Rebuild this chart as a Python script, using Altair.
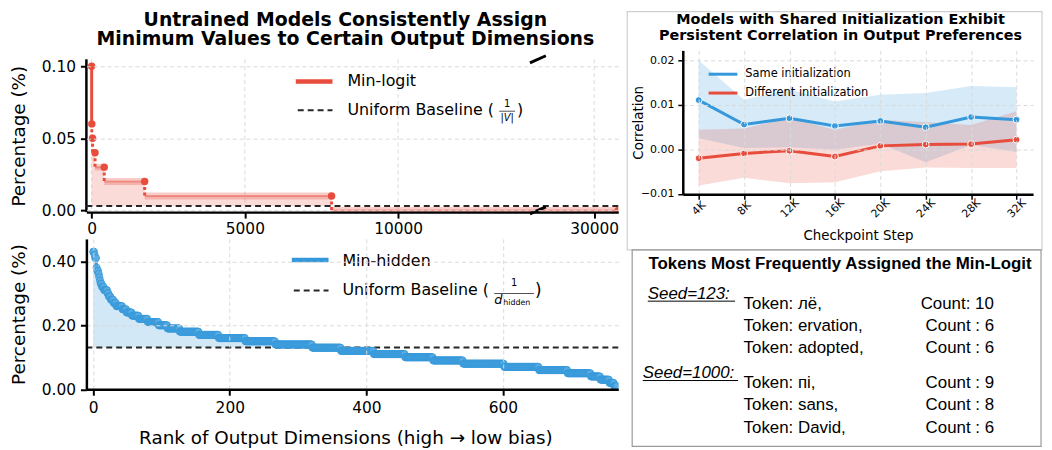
import altair as alt
import pandas as pd

# ---------------- data ----------------
# (a) untrained model: share (%) of inputs whose minimum logit falls on a token, sorted
logit_rank = [0, 5, 30, 110, 410, 1730, 7830, 32000]      # last rank of each plateau
logit_pct = [0.10, 0.06, 0.05, 0.04, 0.03, 0.02, 0.01, 0.00]
vocab_size = 32000
logit_ticks = [0, 5000, 10000, 30000]
logit_break = [14563, 25333]
logit_yticks = [0.00, 0.05, 0.10]
title_left = ["Untrained Models Consistently Assign",
              "Minimum Values to Certain Output Dimensions"]

# (b) minimum hidden dimension: plateau level (%) and last rank of each plateau
hidden_levels = [0.43, 0.42, 0.41, 0.38, 0.37, 0.36, 0.35, 0.34, 0.33, 0.32, 0.31,
                 0.30, 0.29, 0.28, 0.27, 0.26, 0.25, 0.24, 0.23, 0.22, 0.21, 0.20,
                 0.19, 0.18, 0.17, 0.16, 0.15, 0.14, 0.13, 0.12, 0.11, 0.10, 0.09,
                 0.08, 0.07, 0.06, 0.05, 0.04, 0.03, 0.02, 0.01]
hidden_last_rank = [1, 2, 4, 5, 7, 8, 9, 10, 12, 15, 20, 22, 25, 29, 33, 42, 48, 56,
                    66, 79, 95, 108, 126, 154, 183, 222, 266, 320, 362, 410, 456, 497,
                    541, 601, 652, 694, 728, 742, 755, 762, 767]
d_hidden = 768
hidden_ticks = [0, 200, 400, 600]
hidden_yticks = [0.00, 0.20, 0.40]

# (c) correlation of output preferences across checkpoints
ckpt_k = [4, 8, 12, 16, 20, 24, 28, 32]
same_mean = [0.0111, 0.0056, 0.0070, 0.0053, 0.0064, 0.0050, 0.0073, 0.0067]
same_hi = [0.0200, 0.0112, 0.0135, 0.0108, 0.0123, 0.0127, 0.0143, 0.0140]
same_lo = [0.0025, 0.0003, 0.0005, -0.0001, 0.0013, -0.0029, 0.0010, -0.0006]
diff_mean = [-0.0020, -0.0009, -0.0003, -0.0016, 0.0008, 0.0011, 0.0012, 0.0022]
diff_hi = [0.0044, 0.0047, 0.0071, 0.0044, 0.0066, 0.0062, 0.0055, 0.0086]
diff_lo = [-0.0081, -0.0064, -0.0076, -0.0074, -0.0049, -0.0041, -0.0042, -0.0042]
corr_yticks = [-0.01, 0.00, 0.01, 0.02]
title_right = ["Models with Shared Initialization Exhibit",
               "Persistent Correlation in Output Preferences"]

# (d) token table
box_title = "Tokens Most Frequently Assigned the Min-Logit"
seed_labels = ["Seed=123:", "Seed=1000:"]
seed_tokens = [["Token: лё,", "Token: ervation,", "Token: adopted,"],
               ["Token: пi,", "Token: sans,", "Token: David,"]]
seed_counts = [["Count: 10", "Count : 6", "Count : 6"],
               ["Count : 9", "Count : 8", "Count : 6"]]

# ---------------- styling ----------------
RED = "#e74c3c"
BLUE = "#3498db"
INK = "#262626"
GRIDC = "#dadada"
FONT = "DejaVu Sans"
BOXFONT = "Liberation Sans"

W_L, H_TOP, H_BOT = 536, 163, 151.5
W_R, H_R, H_BOX = 353, 145, 209

one = pd.DataFrame({"k": [0]})


def txt(s, x, y, size, **kw):
    kw.setdefault("font", FONT)
    kw.setdefault("align", "left")
    kw.setdefault("baseline", "middle")
    kw.setdefault("color", "black")
    return alt.Chart(pd.DataFrame({"t": [s]})).mark_text(fontSize=size, **kw).encode(
        x=alt.value(x), y=alt.value(y), text="t:N")


def seg(x1, y1, x2, y2, **kw):
    return alt.Chart(one).mark_rule(**kw).encode(
        x=alt.value(x1), x2=alt.value(x2), y=alt.value(y1), y2=alt.value(y2))


def axis(**kw):
    base = dict(domainColor="black", domainWidth=2.5, tickColor="black", tickWidth=2,
                tickSize=6, labelFont=FONT, labelFontSize=15.5, labelColor="black",
                labelPadding=5, labelFlush=False, labelOverlap=False,
                titleFont=FONT, titleFontSize=18.5, titleColor="black",
                titleFontWeight="normal", grid=True, gridColor=GRIDC,
                gridDash=[4, 3], gridWidth=1, zindex=1)
    base.update(kw)
    return alt.Axis(**base)


# ---------------- (a) top-left ----------------
y_top_max = 0.1048   # top of the drawn frame
xs_top = alt.Scale(domain=[-172, logit_break[0], logit_break[1], vocab_size],
                   range=[0, 455, 455, W_L], nice=False, zero=False)
ys_top = alt.Scale(domain=[-0.0012, 0.111], nice=False, zero=False)
ax_xt = axis(values=logit_ticks, format="d", title=None, labelPadding=4, grid=False)
ax_yt = axis(values=logit_yticks, format=".2f", title="Percentage (%)",
             titleX=-68.5, titleY=86, titleBaseline="middle", domain=False)


def XT(f):
    return alt.X(f, type="quantitative", scale=xs_top, axis=ax_xt)


def YT(f):
    return alt.Y(f, type="quantitative", scale=ys_top, axis=ax_yt)


df_logit = pd.DataFrame({"rank": logit_rank, "pct": logit_pct,
                         "prev_rank": [logit_rank[0]] + logit_rank[:-1],
                         "next_pct": logit_pct[1:] + [logit_pct[-1]]})
base_logit = 100.0 / vocab_size

anchor = alt.Chart(one).mark_rect(opacity=0).encode(
    x=alt.value(-78), x2=alt.value(-77), y=alt.value(-40), y2=alt.value(-39))
vgrid_t = alt.Chart(pd.DataFrame({"t": logit_ticks})).mark_rule(
    color=GRIDC, strokeWidth=1, strokeDash=[4, 3]).encode(
    x=XT("t"), y=YT("top"), y2="bot").transform_calculate(
    top=str(y_top_max), bot="-0.0012")
spine_t = alt.Chart(one).mark_rule(color="black", strokeWidth=2.5).encode(
    x=alt.value(0), y=alt.datum(y_top_max), y2=alt.value(H_TOP))
fill_t = alt.Chart(df_logit[df_logit["pct"] > 0]).mark_area(
    interpolate="step-before", color=RED, opacity=0.2).encode(
    x=XT("rank"), y=YT("pct"), y2=alt.datum(base_logit))
band_o = alt.Chart(df_logit.iloc[1:]).mark_rule(
    color=RED, strokeWidth=7, opacity=0.28, clip=True).encode(
    x=XT("prev_rank"), x2="rank", y=YT("pct"))
band_i = alt.Chart(df_logit.iloc[1:]).mark_rule(
    color=RED, strokeWidth=2, opacity=0.45, clip=True).encode(
    x=XT("prev_rank"), x2="rank", y=YT("pct"))
base_t = alt.Chart(one).mark_rule(color=INK, strokeWidth=2, strokeDash=[6, 4]).encode(
    y=alt.datum(base_logit))
drop0 = alt.Chart(df_logit.iloc[:1]).mark_rule(color=RED, strokeWidth=3).encode(
    x=XT("rank"), y=YT("pct"), y2="next_pct")
drops = alt.Chart(df_logit.iloc[1:-1]).mark_rule(
    color=RED, strokeWidth=3, strokeDash=[3, 2.5]).encode(
    x=XT("rank"), y=YT("pct"), y2="next_pct")
dots_t = alt.Chart(df_logit).mark_circle(color=RED, size=56, opacity=1, clip=True).encode(
    x=XT("rank"), y=YT("pct"))
breaks = alt.Chart(pd.DataFrame({"b": [sum(logit_break) / 2] * 2,
                                 "y": [y_top_max, 0.0]})).mark_point(
    shape="M -1 0.45 L 1 -0.45", size=256, filled=False, color="black",
    strokeWidth=3, opacity=1).encode(x=XT("b"), y=YT("y"))

LT = 9  # legend rows measured from the frame top
leg_t = [
    seg(211, LT + 22.3, 248, LT + 22.3, color=RED, strokeWidth=4.5),
    txt("Min-logit", 263, LT + 22.3, 16),
    seg(213, LT + 51.3, 248, LT + 51.3, color=INK, strokeWidth=2, strokeDash=[6, 4]),
    txt("Uniform Baseline (", 263, LT + 51.3, 16),
    txt("1", 424, LT + 45.3, 10, align="center"),
    seg(416, LT + 52.3, 432, LT + 52.3, color=INK, strokeWidth=0.8),
    txt("|V|", 424, LT + 59.5, 10, align="center", fontStyle="italic"),
    txt(")", 434, LT + 51.3, 16),
]
ttl_t = [txt(title_left[i], 261, -30.5 + 19.5 * i, 19, fontWeight="bold",
             align="center") for i in range(2)]

top = alt.layer(anchor, vgrid_t, spine_t, fill_t, band_o, band_i, base_t, drop0, drops,
                dots_t, breaks, *leg_t, *ttl_t).properties(width=W_L, height=H_TOP)

# ---------------- (b) bottom-left ----------------
hidden_rank, hidden_pct = [], []
start = 0
for lvl, last in zip(hidden_levels, hidden_last_rank):
    for r in range(start, last + 1):
        hidden_rank.append(r)
        hidden_pct.append(lvl)
    start = last + 1
df_h = pd.DataFrame({"rank": hidden_rank, "pct": hidden_pct})
base_hidden = 100.0 / d_hidden

xs_b = alt.Scale(domain=[-10, 769], nice=False, zero=False)
ys_b = alt.Scale(domain=[0, 0.47], nice=False, zero=False)
ax_xb = axis(values=hidden_ticks, format="d",
             title="Rank of Output Dimensions (high → low bias)",
             titleX=261, titleY=48.5, titleBaseline="middle", titleAlign="center")
ax_yb = axis(values=hidden_yticks, format=".2f", title="Percentage (%)",
             titleX=-68.5, titleBaseline="middle")


def XB(f):
    return alt.X(f, type="quantitative", scale=xs_b, axis=ax_xb)


def YB(f):
    return alt.Y(f, type="quantitative", scale=ys_b, axis=ax_yb)


fill_b = alt.Chart(df_h[df_h["pct"] >= base_hidden]).mark_area(
    color=BLUE, opacity=0.22).encode(x=XB("rank"), y=YB("pct"), y2=alt.datum(base_hidden))
line_b = alt.Chart(df_h).mark_line(color=BLUE, strokeWidth=3).encode(
    x=XB("rank"), y=YB("pct"))
dots_b = alt.Chart(df_h).mark_point(filled=True, size=52, fill="#5dade2", stroke=BLUE,
                                    strokeWidth=1, opacity=0.85, clip=True).encode(
    x=XB("rank"), y=YB("pct"))
base_b = alt.Chart(one).mark_rule(color=INK, strokeWidth=2, strokeDash=[6, 4]).encode(
    y=alt.datum(base_hidden))

leg_b = [
    seg(207, 21.3, 244, 21.3, color=BLUE, strokeWidth=4.5),
    txt("Min-hidden", 258, 22, 16),
    seg(209, 52, 244, 52, color=INK, strokeWidth=2, strokeDash=[6, 4]),
    txt("Uniform Baseline (", 258, 52, 16),
    txt("1", 431, 44.7, 10, align="center"),
    seg(411, 55, 451, 55, color=INK, strokeWidth=0.8),
    txt("d", 411, 62, 13, fontStyle="italic"),
    txt("hidden", 420, 65, 8),
    txt(")", 452, 53, 17),
]

bottom = alt.layer(fill_b, base_b, line_b, dots_b, *leg_b).properties(
    width=W_L, height=H_BOT)

# ---------------- (c) top-right ----------------
df_c = pd.DataFrame({"k": ckpt_k, "same": same_mean, "same_hi": same_hi,
                     "same_lo": same_lo, "diff": diff_mean, "diff_hi": diff_hi,
                     "diff_lo": diff_lo})
xs_r = alt.Scale(domain=[2.6, 33.46], nice=False, zero=False)
ys_r = alt.Scale(domain=[-0.0101, 0.0223], nice=False, zero=False)
ax_xr = axis(values=ckpt_k, labelExpr="datum.value + 'K'", labelAngle=-45,
             labelAlign="center", labelBaseline="middle", labelPadding=9,
             labelFontSize=11, tickSize=5, tickWidth=1.5, title="Checkpoint Step",
             titleFontSize=13.5, titleY=42, titleBaseline="middle", titleAlign="center")
ax_yr = axis(values=corr_yticks, format=".2f", labelFontSize=11, tickSize=5,
             tickWidth=1.5, labelPadding=4, title="Correlation", titleFontSize=13.5,
             titleX=-45, titleBaseline="middle")


def XR(f):
    return alt.X(f, type="quantitative", scale=xs_r, axis=ax_xr)


def YR(f):
    return alt.Y(f, type="quantitative", scale=ys_r, axis=ax_yr)


frame_r = alt.Chart(one).mark_rect(fillOpacity=0, stroke="#cfcfcf", strokeWidth=1.2).encode(
    x=alt.value(-56), x2=alt.value(362), y=alt.value(-39), y2=alt.value(201))
band_s = alt.Chart(df_c).mark_area(color=BLUE, opacity=0.2).encode(
    x=XR("k"), y=YR("same_lo"), y2="same_hi")
band_d = alt.Chart(df_c).mark_area(color=RED, opacity=0.2).encode(
    x=XR("k"), y=YR("diff_lo"), y2="diff_hi")
line_s = alt.Chart(df_c).mark_line(color=BLUE, strokeWidth=3).encode(x=XR("k"), y=YR("same"))
pts_s = alt.Chart(df_c).mark_point(filled=True, size=48, fill=BLUE, stroke="white",
                                   strokeWidth=1, opacity=1).encode(x=XR("k"), y=YR("same"))
line_d = alt.Chart(df_c).mark_line(color=RED, strokeWidth=3).encode(x=XR("k"), y=YR("diff"))
pts_d = alt.Chart(df_c).mark_point(filled=True, size=48, fill=RED, stroke="white",
                                   strokeWidth=1, opacity=1).encode(x=XR("k"), y=YR("diff"))
leg_r = [
    seg(26, 24, 55, 24, color=BLUE, strokeWidth=3),
    txt("Same initialization", 63, 24, 11.5),
    seg(26, 43, 55, 43, color=RED, strokeWidth=3),
    txt("Different initialization", 63, 43, 11.5),
]
ttl_r = [txt(title_right[i], 159, -30.5 + 16.3 * i, 14.5, fontWeight="bold",
             align="center") for i in range(2)]
right_top = alt.layer(frame_r, band_s, band_d, line_s, line_d, pts_s, pts_d,
                      *leg_r, *ttl_r).properties(width=W_R, height=H_R)

# ---------------- (d) token box ----------------
box_layers = [
    alt.Chart(one).mark_rect(fillOpacity=0, stroke="#9a9a9a", strokeWidth=1.2).encode(
        x=alt.value(-51), x2=alt.value(361), y=alt.value(11), y2=alt.value(209)),
    txt(box_title, 158.5, 25.3, 17, font=BOXFONT, fontWeight="bold", align="center"),
]
group_y0 = [65.3, 145.3]
label_x = [-35.3, -40.3]
label_w = [88, 96]
count_x = [[239.7, 244.7, 244.7], [244.7, 244.7, 244.7]]
for g in range(len(seed_labels)):
    y0 = group_y0[g]
    box_layers.append(txt(seed_labels[g], label_x[g], y0 - 10, 17, font=BOXFONT,
                          fontStyle="italic"))
    box_layers.append(seg(label_x[g], y0 - 2.6, label_x[g] + label_w[g], y0 - 2.6,
                          color="black", strokeWidth=1))
    for i in range(len(seed_tokens[g])):
        yy = y0 + 22.5 * i
        box_layers.append(txt(seed_tokens[g][i], 61.3, yy, 17, font=BOXFONT))
        box_layers.append(txt(seed_counts[g][i], count_x[g][i], yy, 17, font=BOXFONT))

box = alt.layer(*box_layers).properties(width=W_R, height=H_BOX)

# ---------------- compose ----------------
chart = alt.concat(top, right_top, bottom, box, columns=2,
                   spacing={"row": 27, "column": 65}, bounds="flush").properties(
    padding={"left": 0, "top": 0, "right": 0, "bottom": 0}
).configure(font=FONT).configure_view(stroke="transparent")

chart.save("out.html", embed_options={"renderer": "svg", "actions": False})
